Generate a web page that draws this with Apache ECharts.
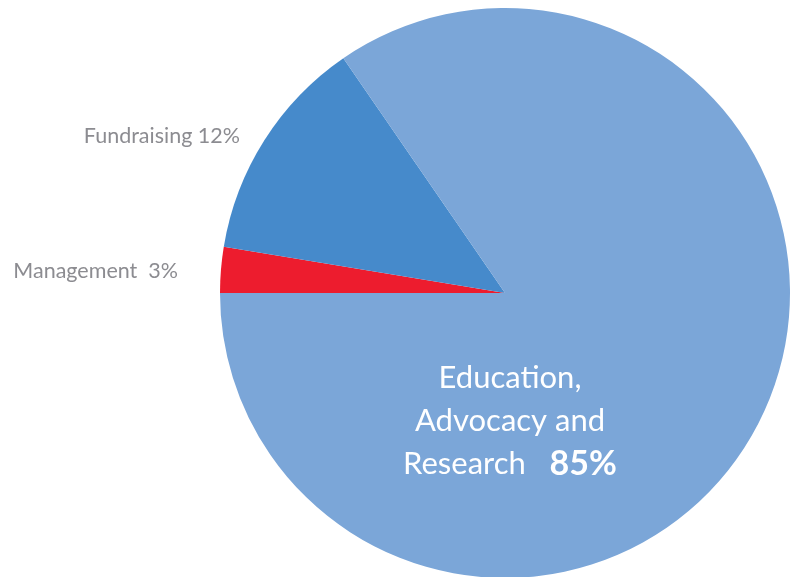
<!DOCTYPE html>
<html>
<head>
<meta charset="utf-8">
<script src="https://cdn.jsdelivr.net/npm/echarts@6/dist/echarts.min.js"></script>
<style>html,body{margin:0;padding:0;background:#fff}#c{width:795px;height:577px}</style>
</head>
<body>
<div id="c"></div>
<script>
const categories = ["Management", "Fundraising", "Education, Advocacy and Research"];
const values = [2.6, 12.8, 84.6];
const percentLabels = ["3%", "12%", "85%"];
const colors = ["#ED1C2E", "#468ACB", "#7BA6D8"];

const chart = echarts.init(document.getElementById('c'), null, {renderer: 'canvas'});
const labelPos = [
  {x: 178, y: 271, align: 'right', verticalAlign: 'middle'},
  {x: 240, y: 136, align: 'right', verticalAlign: 'middle'},
  {x: 510, y: 421, align: 'center', verticalAlign: 'middle'}
];
const data = categories.map((c, i) => {
  const item = {name: c, value: values[i], itemStyle: {color: colors[i]}};
  if (i === 2) {
    item.label = {
      position: 'inside',
      formatter: 'Education,\nAdvocacy and\nResearch   {b|' + percentLabels[i] + '}',
      color: '#fff', fontSize: 31, lineHeight: 43, fontFamily: 'Lato', align: 'center',
      overflow: 'none',
      rich: {b: {fontWeight: 'bold', fontSize: 34, color: '#fff', fontFamily: 'Lato', lineHeight: 43}}
    };
  } else {
    item.label = {
      position: 'outside',
      formatter: i === 0 ? c + '  ' + percentLabels[i] : c + ' ' + percentLabels[i],
      color: '#8C8C91', fontSize: 21.5, fontFamily: 'Lato',
      overflow: 'none', width: 300
    };
  }
  return item;
});

chart.setOption({
  animation: false,
  series: [{
    type: 'pie',
    center: [505, 293],
    radius: 285,
    startAngle: 180,
    clockwise: true,
    labelLine: {show: false},
    emphasis: {disabled: true},
    data: data,
    labelLayout: function (p) { return labelPos[p.dataIndex]; }
  }]
});
</script>
</body>
</html>
